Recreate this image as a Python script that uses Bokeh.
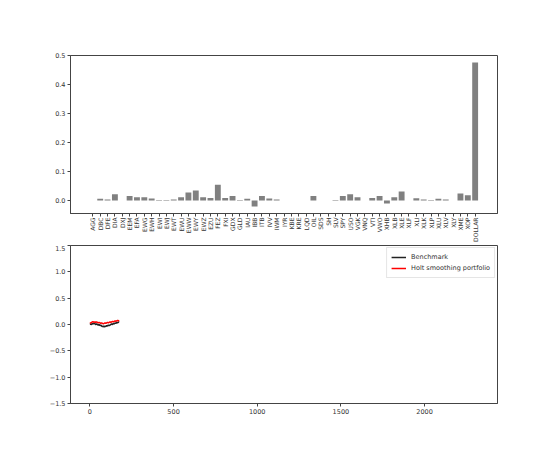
import math
from bokeh.plotting import figure
from bokeh.models import Range1d, FixedTicker, Legend, LegendItem, NumeralTickFormatter
from bokeh.layouts import column
from bokeh.embed import file_html
from bokeh.resources import INLINE

# ---- data ----
tickers = ["AGG", "DBC", "DFE", "DIA", "DXJ", "EEM", "EFA", "EWG", "EWH", "EWI",
           "EWJ", "EWT", "EWU", "EWW", "EWY", "EWZ", "EZU", "FEZ", "FXI", "GDX",
           "GLD", "IAU", "IBB", "ITB", "IVV", "IWM", "IYR", "KBE", "KRE", "LQD",
           "OIL", "SDS", "SH", "SLV", "SPY", "USO", "VGK", "VNQ", "VTI", "VWO",
           "XHB", "XLB", "XLE", "XLF", "XLI", "XLK", "XLP", "XLU", "XLV", "XLY",
           "XME", "XOP", "DOLLAR"]
weights = [0.000, 0.006, 0.004, 0.022, 0.000, 0.016, 0.011, 0.011, 0.007, 0.002,
           0.002, 0.004, 0.011, 0.028, 0.035, 0.011, 0.009, 0.055, 0.009, 0.016,
           0.002, 0.006, -0.021, 0.016, 0.007, 0.004, 0.000, 0.000, 0.000, 0.000,
           0.016, 0.000, 0.000, 0.002, 0.016, 0.022, 0.011, 0.000, 0.009, 0.016,
           -0.010, 0.011, 0.031, 0.000, 0.008, 0.004, 0.002, 0.006, 0.004, 0.000,
           0.024, 0.018, 0.477]

days = [0, 5, 10, 15, 20, 25, 30, 35, 40, 45, 50, 55, 60, 65, 70, 75, 80, 85,
        90, 95, 100, 105, 110, 115, 120, 125, 130, 135, 140, 145, 150, 155, 160,
        165, 170, 175]
benchmark = [0.00, 0.01, 0.00, 0.02, 0.01, 0.02, 0.01, 0.00, 0.01, 0.00, -0.01,
             0.00, -0.02, -0.01, -0.03, -0.04, -0.03, -0.05, -0.03, -0.04, -0.02,
             -0.03, -0.01, -0.02, -0.01, 0.00, 0.01, 0.00, 0.02, 0.01, 0.03, 0.02,
             0.04, 0.03, 0.05, 0.04]
holt = [0.02, 0.03, 0.04, 0.05, 0.05, 0.04, 0.05, 0.04, 0.05, 0.04, 0.03, 0.04,
        0.03, 0.02, 0.03, 0.02, 0.01, 0.02, 0.03, 0.02, 0.03, 0.04, 0.03, 0.04,
        0.05, 0.04, 0.05, 0.06, 0.05, 0.06, 0.07, 0.06, 0.07, 0.08, 0.07, 0.08]

weight_ticks = [0.0, 0.1, 0.2, 0.3, 0.4, 0.5]
ret_ticks = [-1.5, -1.0, -0.5, 0.0, 0.5, 1.0, 1.5]
day_ticks = [0, 500, 1000, 1500, 2000]

FONT = "DejaVu Sans"
TXT = "#333333"
LINE = "#444444"
FS = "6.5px"


def style(p):
    p.outline_line_color = LINE
    p.outline_line_width = 1
    p.grid.visible = False
    p.background_fill_color = "white"
    p.border_fill_color = "white"
    for ax in p.axis:
        ax.axis_line_color = LINE
        ax.major_tick_line_color = LINE
        ax.minor_tick_line_color = None
        ax.major_tick_in = 0
        ax.major_tick_out = 3
        ax.major_label_text_font = FONT
        ax.major_label_text_font_size = FS
        ax.major_label_text_color = TXT
        ax.major_label_standoff = 2


idx = list(range(len(tickers)))
p1 = figure(width=544, height=245, output_backend="svg", toolbar_location=None,
            x_range=Range1d(-3.04, len(tickers) + 2.04),
            y_range=Range1d(-0.0448, 0.5016),
            min_border_left=70, min_border_right=47, min_border_top=55,
            min_border_bottom=32)
p1.vbar(x=idx, top=weights, bottom=0, width=0.8, fill_color="gray", line_color=None)
style(p1)
p1.xaxis.ticker = FixedTicker(ticks=idx)
p1.xaxis.major_label_overrides = {i: t for i, t in enumerate(tickers)}
p1.xaxis.major_label_orientation = math.pi / 2
p1.xaxis.major_label_text_font_size = "6px"
p1.xaxis.major_label_standoff = 1
p1.yaxis.ticker = FixedTicker(ticks=weight_ticks)
p1.yaxis.formatter = NumeralTickFormatter(format="0.0")

p2 = figure(width=544, height=207, output_backend="svg", toolbar_location=None,
            x_range=Range1d(-116, 2436), y_range=Range1d(-1.5, 1.5),
            min_border_left=70, min_border_right=47, min_border_top=0,
            min_border_bottom=49)
r_b = p2.line(days, benchmark, line_color="#222222", line_width=1.5)
r_h = p2.line(days, holt, line_color="red", line_width=1.5)
style(p2)
p2.xaxis.ticker = FixedTicker(ticks=day_ticks)
p2.yaxis.ticker = FixedTicker(ticks=ret_ticks)
p2.yaxis.major_label_overrides = {t: ("\u2212" + f"{abs(t):.1f}" if t < 0 else f"{t:.1f}") for t in ret_ticks}

legend = Legend(items=[LegendItem(label="Benchmark", renderers=[r_b]),
                       LegendItem(label="Holt smoothing portfolio", renderers=[r_h])],
                location="top_right")
legend.label_text_font = FONT
legend.label_text_font_size = FS
legend.label_text_color = TXT
legend.glyph_width = 15
legend.glyph_height = 10
legend.label_height = 10
legend.spacing = 1
legend.padding = 4
legend.margin = 2
legend.border_line_color = "#cccccc"
legend.background_fill_alpha = 0.8
p2.add_layout(legend)

layout = column(p1, p2, spacing=0)
open("out.html", "w").write(file_html(layout, INLINE))
